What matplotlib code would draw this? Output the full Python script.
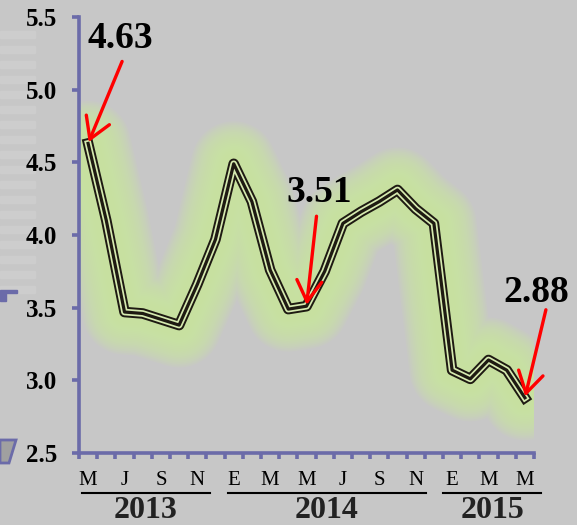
import numpy as np
import matplotlib.pyplot as plt
from matplotlib.patches import Rectangle, Polygon

# monthly values, May 2013 .. May 2015
values = [4.63, 4.10, 3.47, 3.46, 3.42, 3.38, 3.66, 3.97, 4.49, 4.23, 3.76, 3.49,
          3.51, 3.75, 4.08, 4.16, 4.23, 4.31, 4.18, 4.08, 3.07, 3.01, 3.14, 3.07, 2.88]
month_labels = ['M', 'J', 'S', 'N', 'E', 'M', 'M', 'J', 'S', 'N', 'E', 'M', 'M']
years = ['2013', '2014', '2015']
year_spans = [(-0.35, 6.7), (7.7, 18.55), (19.5, 24.9)]
callouts = [(0, '4.63'), (12, '3.51'), (24, '2.88')]
callout_text_off = [(32, 95), (13, 104), (11, 96)]
callout_tail_off = [(34, 82), (10, 90), (21, 88)]

bg = '#c7c7c7'
axis_col = '#6b6ba9'
glow = '#d0e9a0'
serif = 'Liberation Serif'

x = np.arange(len(values))

fig = plt.figure(figsize=(5.77, 5.25), dpi=100, facecolor=bg)
ax = fig.add_axes([79/577, 72/525, 455/577, 436/525])
ax.set_facecolor(bg)

# faint remnants at the left edge of the slide, behind everything
for k in range(18):
    fig.patches.append(Rectangle((0, (232 + k * 15)/525), 35/577, 7/525,
                                 transform=fig.transFigure, color='#cdcdcd', zorder=-2))
fig.patches.append(Rectangle((0, 232/525), 17/577, 3/525, transform=fig.transFigure,
                             color=axis_col, zorder=-1))
fig.patches.append(Rectangle((0, 224/525), 6/577, 8/525, transform=fig.transFigure,
                             color=axis_col, zorder=-1))
fig.patches.append(Polygon([(0, 85/525), (16/577, 85/525), (9/577, 62/525), (0, 62/525)],
                           closed=True, transform=fig.transFigure, facecolor='#a0a0a0',
                           edgecolor=axis_col, lw=2, zorder=-1))

# soft green glow
for w in np.linspace(85, 12, 22):
    ax.plot(x, values, color=glow, lw=w * 0.72, alpha=0.11,
            solid_capstyle='round', solid_joinstyle='round', zorder=2)

# triple stroke line
ax.plot(x, values, color='#1e1a12', lw=7.6, solid_joinstyle='round', zorder=3)
ax.plot(x, values, color='#d6eab0', lw=4.8, solid_joinstyle='round', zorder=4)
ax.plot(x, values, color='#1e1a12', lw=2.3, solid_joinstyle='round', zorder=5)

ax.set_xlim(-0.5, 24.5)
ax.set_ylim(2.5, 5.5)

for s in ['top', 'right']:
    ax.spines[s].set_visible(False)
for s in ['left', 'bottom']:
    ax.spines[s].set_color(axis_col)
    ax.spines[s].set_linewidth(2.6)

ax.set_yticks(np.arange(2.5, 5.51, 0.5))
ax.set_yticklabels(['%.1f' % v for v in np.arange(2.5, 5.51, 0.5)],
                   fontfamily=serif, fontweight='bold', fontsize=18)
ax.tick_params(axis='y', direction='out', length=5, width=2.6, color=axis_col, pad=11)

ax.set_xticks(x[::2])
ax.set_xticklabels(month_labels, fontfamily=serif, fontsize=15)
ax.set_xticks(np.arange(-0.5, 25, 1), minor=True)
ax.tick_params(axis='x', which='major', length=0, pad=13)
ax.tick_params(axis='x', which='minor', direction='out', length=4, width=2.6, color=axis_col)

tr = ax.get_xaxis_transform()
for yr, (a, b) in zip(years, year_spans):
    ax.plot([a, b], [-0.092, -0.092], color='black', lw=1.5, transform=tr, clip_on=False)
    ax.text((a + b) / 2, -0.150, yr, transform=tr, ha='center', va='baseline',
            fontfamily=serif, fontweight='bold', fontsize=23, color='#222222')

for (i, lab), toff, aoff in zip(callouts, callout_text_off, callout_tail_off):
    ax.annotate('', xy=(x[i], values[i]), xytext=aoff, textcoords='offset pixels',
                arrowprops=dict(arrowstyle='->,head_length=0.75,head_width=0.45',
                                color='#ff0000', lw=2.4, mutation_scale=20,
                                shrinkA=0, shrinkB=1), zorder=6)
    ax.annotate(lab, xy=(x[i], values[i]), xytext=toff, textcoords='offset pixels',
                ha='center', va='baseline', fontfamily=serif, fontweight='bold',
                fontsize=27, color='black', zorder=7, annotation_clip=False)

fig.savefig('out.png', dpi=100, facecolor=bg)
